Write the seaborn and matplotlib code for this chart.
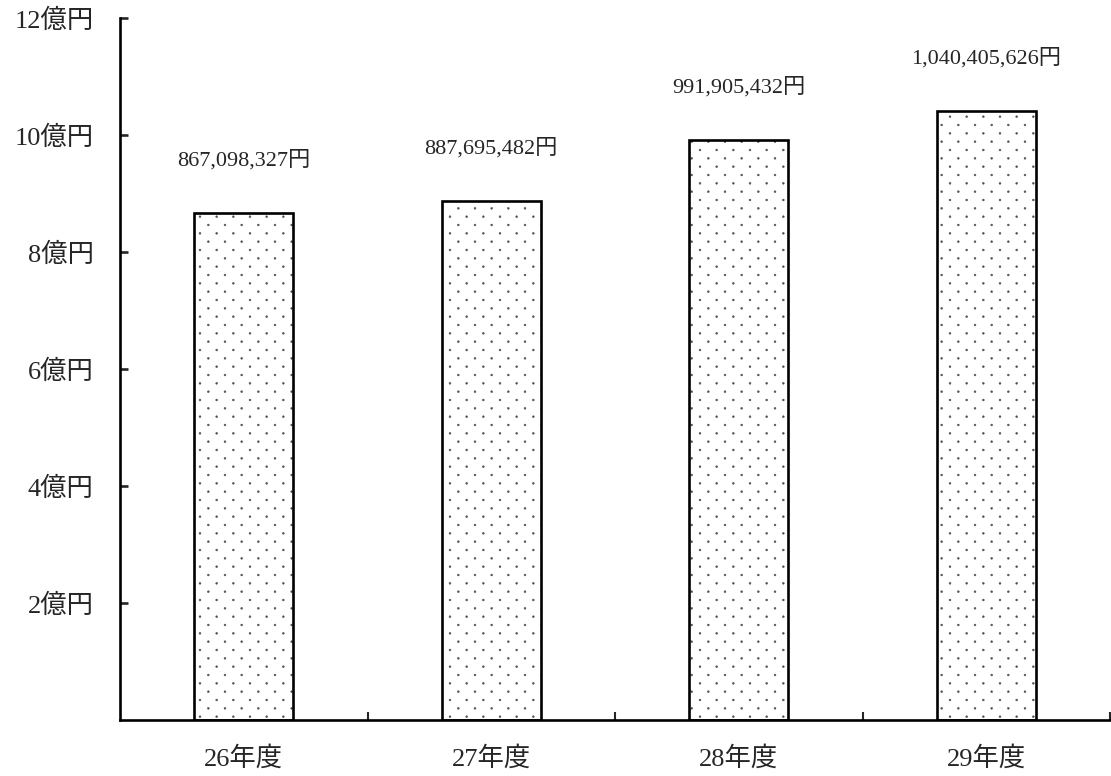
import numpy as np
import pandas as pd
import matplotlib
matplotlib.use("Agg")
import matplotlib.pyplot as plt
import matplotlib.colors as mcolors
import matplotlib.hatch as mhatch
from matplotlib.path import Path
import seaborn as sns

# Annual amounts (yen)
years = ["26年度", "27年度", "28年度", "29年度"]
amounts = [867098327, 887695482, 991905432, 1040405626]
ytick_values = [2, 4, 6, 8, 10, 12]
ytick_labels = ["2億円", "4億円", "6億円", "8億円", "10億円", "12億円"]


class StaggeredDots(mhatch.HatchPatternBase):
    """Dot screen: rows twice as close as the dots within a row, alternate rows offset."""

    radius = 0.009

    def __init__(self, hatch, density):
        self.n = hatch.count(".") * density
        circ = Path.unit_circle()
        self.shape_vertices = circ.vertices
        self.shape_codes = circ.codes
        if self.n == 0:
            self.num_vertices = 0
        else:
            n_dots = (self.n + 1) * (self.n + 1) + self.n * self.n
            self.num_vertices = n_dots * len(self.shape_vertices)

    def set_vertices_and_codes(self, vertices, codes):
        n = self.n
        shape = self.shape_vertices * self.radius
        k = len(shape)
        cursor = 0
        for row in range(2 * n + 1):
            y = row / (2 * n)
            if row % 2 == 0:
                xs = np.linspace(0, 1, n + 1)
            else:
                xs = (np.arange(n) + 0.5) / n
            for x in xs:
                vertices[cursor:cursor + k] = shape + (x, y)
                codes[cursor:cursor + k] = self.shape_codes
                cursor += k


_types = mhatch._hatch_types
_types[_types.index(mhatch.SmallFilledCircles)] = StaggeredDots

sns.set_style("ticks")
plt.rcParams["font.family"] = ["Liberation Serif", "Noto Sans CJK JP"]
plt.rcParams["hatch.linewidth"] = 0.4
plt.rcParams["axes.unicode_minus"] = False

df = pd.DataFrame({"year": years, "amount": amounts})
df["oku"] = df["amount"] / 1e8

fig = plt.figure(figsize=(11.11, 7.76), dpi=100)
ax = fig.add_axes([120 / 1111, 1 - 720 / 776, 990 / 1111, 702 / 776])

sns.barplot(data=df, x="year", y="oku", color="white", saturation=1,
            edgecolor="black", linewidth=1.9, width=0.4, ax=ax)

DOT = "#505050"
for p in ax.patches:
    p.set_hatch(".")
    if hasattr(p, "set_hatchcolor"):
        p.set_hatchcolor(DOT)
    else:
        p._hatch_color = mcolors.to_rgba(DOT)

# Value labels above each bar
for i, (v, h) in enumerate(zip(df["amount"], df["oku"])):
    ax.annotate(f"{v:,}円", xy=(i, h), xytext=(0, 38), textcoords="offset points",
                ha="center", va="center", fontsize=16)

ax.set_xlim(-0.5, 3.5)
ax.set_ylim(0, 12)
ax.set_yticks(ytick_values)
ax.set_yticklabels(ytick_labels)
ax.set_xlabel("")
ax.set_ylabel("")

ax.set_xticks([0.5, 1.5, 2.5, 3.5], minor=True)
ax.tick_params(axis="x", which="major", length=0, pad=19, labelsize=19)
ax.tick_params(axis="x", which="minor", direction="in", length=6, width=1.5)
ax.tick_params(axis="y", direction="in", length=6, width=1.9, pad=19, labelsize=19)

sns.despine(ax=ax)
for side in ("left", "bottom"):
    ax.spines[side].set_linewidth(1.9)
    ax.spines[side].set_color("black")

fig.savefig("out.png", dpi=100, facecolor="white")
